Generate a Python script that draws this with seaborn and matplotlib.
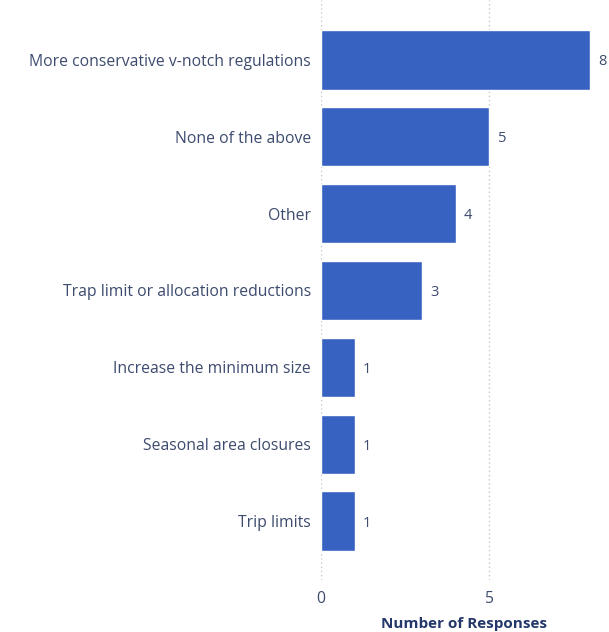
import matplotlib
matplotlib.use("Agg")
import matplotlib.pyplot as plt
import seaborn as sns
import pandas as pd

categories = [
    "More conservative v-notch regulations",
    "None of the above",
    "Other",
    "Trap limit or allocation reductions",
    "Increase the minimum size",
    "Seasonal area closures",
    "Trip limits",
]
responses = [8, 5, 4, 3, 1, 1, 1]
x_ticks = [0, 5]

df = pd.DataFrame({"category": categories, "responses": responses})

sns.set_theme(style="white")
plt.rcParams["font.family"] = ["Open Sans", "DejaVu Sans"]

bar_color = "#3862c2"
label_color = "#3d4b6e"
title_color = "#24386b"

fig = plt.figure(figsize=(6.09, 6.32), dpi=100)
ax = fig.add_axes([0.527, 0.082, 0.470, 0.918])

sns.barplot(data=df, x="responses", y="category", orient="h",
            color=bar_color, width=0.77, saturation=1, ax=ax)

ax.set_xlim(0, 8.5)
ax.set_ylim(6.77, -0.78)
ax.set_xticks(x_ticks)
ax.xaxis.grid(True, color="#c8c8c8", linestyle=(0, (1, 2)), linewidth=1)
ax.yaxis.grid(False)
ax.set_axisbelow(True)
for s in ax.spines.values():
    s.set_visible(False)

ax.tick_params(axis="y", length=0, pad=7, labelsize=11.3, labelcolor=label_color)
ax.tick_params(axis="x", length=0, pad=8, labelsize=11.3, labelcolor=label_color)
ax.set_ylabel("")
ax.set_xlabel("Number of Responses", fontsize=11, fontweight="bold",
              color=title_color, labelpad=7)

for container in ax.containers:
    texts = ax.bar_label(container, labels=[str(v) for v in responses],
                         padding=6, fontsize=10.5, color=label_color,
                         clip_on=False)
    for t in texts:
        t.set_verticalalignment("center_baseline")

fig.savefig("out.png", dpi=100, facecolor="white")
